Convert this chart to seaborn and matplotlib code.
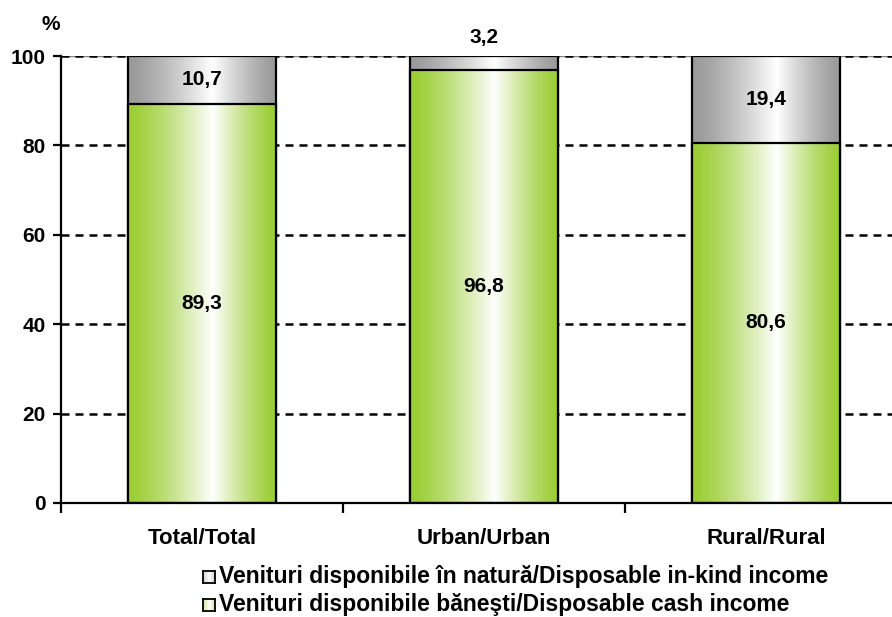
import numpy as np
import pandas as pd
import matplotlib
matplotlib.use("Agg")
import matplotlib.pyplot as plt
import matplotlib.colors as mcolors
import seaborn as sns

# Datos
categorias = ["Total/Total", "Urban/Urban", "Rural/Rural"]
banesti = [89.3, 96.8, 80.6]
in_natura = [10.7, 3.2, 19.4]
leyenda = ["Venituri disponibile în natură/Disposable in-kind income",
           "Venituri disponibile băneşti/Disposable cash income"]

df = pd.DataFrame({"categoria": categorias, "banesti": banesti, "natura": in_natura})
df["total"] = df["banesti"] + df["natura"]

sns.set_style("white")
plt.rcParams["font.family"] = ["Liberation Sans", "DejaVu Sans"]
plt.rcParams["font.weight"] = "bold"
plt.rcParams["text.color"] = "black"
plt.rcParams["xtick.color"] = "black"
plt.rcParams["ytick.color"] = "black"

VERDE = "#9acd32"
GRIS = "#999999"
FS = 15


def gradiente(color, n=256):
    c = np.array(mcolors.to_rgb(color))
    x = np.linspace(0, 1, n)
    t = np.where(x < 0.57, x / 0.57, (1 - x) / 0.43)
    t = np.clip(t, 0, 1) ** 1.3
    img = c[None, :] * (1 - t[:, None]) + np.ones(3)[None, :] * t[:, None]
    return img[None, :, :]


fig = plt.figure(figsize=(8.92, 6.17), dpi=100)
ax = fig.add_axes([61 / 892, 1 - 503 / 617, 846 / 892, 447 / 617])

sns.barplot(data=df, x="categoria", y="total", color=GRIS, width=0.525,
            saturation=1, ax=ax, zorder=3)
sns.barplot(data=df, x="categoria", y="banesti", color=VERDE, width=0.525,
            saturation=1, ax=ax, zorder=4)

# Relleno degradado
for i, p in enumerate(ax.patches):
    col = GRIS if i < len(categorias) else VERDE
    x0, y0 = p.get_x(), p.get_y()
    w, h = p.get_width(), p.get_height()
    im = ax.imshow(gradiente(col), extent=[x0, x0 + w, y0, y0 + h],
                   aspect="auto", zorder=p.get_zorder(), interpolation="bilinear")
    im.set_clip_path(p)
    p.set_facecolor("none")
    p.set_edgecolor("black")
    p.set_linewidth(1.6)
    p.set_zorder(p.get_zorder() + 0.5)

ax.set_xlim(-0.5, 2.5)
ax.set_ylim(0, 100)

# Etiquetas
for i in range(len(categorias)):
    b = banesti[i]
    n = in_natura[i]
    ax.text(i, b / 2, f"{b:.1f}".replace(".", ","), ha="center", va="center",
            fontsize=FS, fontweight="bold", zorder=10)
    if n > 5:
        ax.text(i, b + n / 2, f"{n:.1f}".replace(".", ","), ha="center",
                va="center", fontsize=FS, fontweight="bold", zorder=10)
    else:
        ax.text(i, 100 + 2.0, f"{n:.1f}".replace(".", ","), ha="center",
                va="bottom", fontsize=FS, fontweight="bold", zorder=10,
                clip_on=False)

# Ejes y rejilla
ax.set_yticks([0, 20, 40, 60, 80, 100])
ax.set_yticklabels([0, 20, 40, 60, 80, 100], fontsize=FS, fontweight="bold")
ax.axhline(100, color="#808080", linewidth=1.0, zorder=1.5)
for y in [20, 40, 60, 80, 100]:
    ax.axhline(y, color="black", linestyle=(0, (3.2, 2.4)), linewidth=1.8, zorder=2)

ax.set_xticks([0, 1, 2])
ax.set_xticklabels(categorias, fontsize=16, fontweight="bold")
ax.tick_params(axis="x", which="major", bottom=False, length=0, pad=18)
ax.set_xticks([-0.5, 0.5, 1.5], minor=True)
ax.tick_params(axis="x", which="minor", bottom=True, direction="out",
               length=7, width=1.6)
ax.tick_params(axis="y", left=True, direction="out", length=6, width=1.6, pad=5)
ax.set_xlabel("")
ax.set_ylabel("")

for s in ["top", "right"]:
    ax.spines[s].set_visible(False)
for s in ["left", "bottom"]:
    ax.spines[s].set_linewidth(1.6)
    ax.spines[s].set_color("black")
    ax.spines[s].set_zorder(6)

fig.text(42 / 892, 1 - 24 / 617, "%", fontsize=FS, fontweight="bold",
         ha="left", va="center")

# Leyenda
colores_ley = [GRIS, VERDE]
for k, (txt, col) in enumerate(zip(leyenda, colores_ley)):
    yc = 577 + 28 * k
    lax = fig.add_axes([203 / 892, 1 - (yc + 6) / 617, 12 / 892, 12 / 617])
    img = gradiente(col)
    img = 1 - (1 - img) * 0.4
    lax.imshow(img, extent=[0, 1, 0, 1], aspect="auto")
    lax.set_xticks([])
    lax.set_yticks([])
    for s in lax.spines.values():
        s.set_linewidth(1.3)
        s.set_color("black")
    fig.text(219 / 892, 1 - yc / 617, txt, fontsize=16.5, fontweight="bold",
             ha="left", va="center")

fig.savefig("out.png", dpi=100)
